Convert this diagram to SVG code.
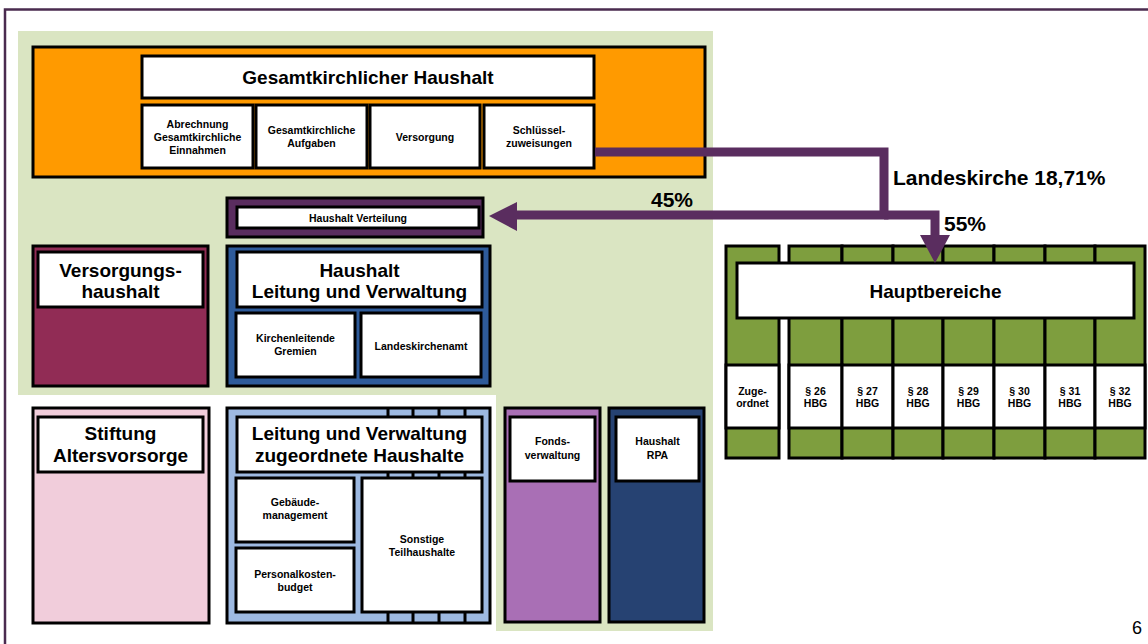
<svg xmlns="http://www.w3.org/2000/svg" width="1148" height="644" viewBox="0 0 1148 644">
<defs>
<style>
.b{stroke:#000;stroke-width:3}
.w{fill:#fff;stroke:#000;stroke-width:3}
.g{fill:#7e9e3e;stroke:#000;stroke-width:3}
.t19{font-family:'Liberation Sans',Arial,sans-serif;font-weight:bold;font-size:19px;text-anchor:middle;fill:#000}
.t10{font-family:'Liberation Sans',Arial,sans-serif;font-weight:bold;font-size:10.5px;text-anchor:middle;fill:#000}
.lbl{font-family:'Liberation Sans',Arial,sans-serif;font-weight:bold;font-size:21px;fill:#000}
.conn{fill:none;stroke:#5a2d5f;stroke-width:9;stroke-linejoin:miter}
.head{fill:#5a2d5f}
</style>
</defs>
<rect width="1148" height="644" fill="#fff"/>
<path d="M5,644 V9.5 H1148" fill="none" stroke="#4a2b4f" stroke-width="2.5"/>
<g id="background">
<rect x="18" y="31" width="695" height="364" fill="#dae5c2"/>
<rect x="496" y="395" width="217" height="236" fill="#dae5c2"/>
</g>
<g id="gesamtkirchlicher-haushalt">
<rect x="33" y="47" width="672" height="130" fill="#ff9a00" class="b"/>
<rect x="142" y="56" width="452" height="42" class="w"/>
<text x="368" y="84" class="t19">Gesamtkirchlicher Haushalt</text>
<rect x="142" y="105" width="111" height="63" class="w"/>
<text class="t10"><tspan x="197.5" y="128">Abrechnung</tspan><tspan x="197.5" y="141">Gesamtkirchliche</tspan><tspan x="197.5" y="154">Einnahmen</tspan></text>
<rect x="256" y="105" width="111" height="63" class="w"/>
<text class="t10"><tspan x="311.5" y="134">Gesamtkirchliche</tspan><tspan x="311.5" y="147">Aufgaben</tspan></text>
<rect x="370" y="105" width="110" height="63" class="w"/>
<text x="425" y="141" class="t10">Versorgung</text>
<rect x="484" y="105" width="110" height="63" class="w"/>
<text class="t10"><tspan x="539" y="134">Schlüssel-</tspan><tspan x="539" y="147">zuweisungen</tspan></text>
</g>
<g id="haushalt-verteilung">
<rect x="227" y="198" width="256" height="39" fill="#5a2d5f" class="b"/>
<rect x="237" y="207" width="242" height="21" class="w"/>
<text x="358" y="222" class="t10">Haushalt Verteilung</text>
</g>
<g id="versorgungshaushalt">
<rect x="33" y="246" width="175" height="140" fill="#912c55" class="b"/>
<rect x="38" y="252" width="165" height="55" class="w"/>
<text class="t19"><tspan x="120.5" y="277">Versorgungs-</tspan><tspan x="120.5" y="298">haushalt</tspan></text>
</g>
<g id="haushalt-leitung-verwaltung">
<rect x="227" y="246" width="263" height="140" fill="#2e5b9a" class="b"/>
<rect x="237" y="252" width="245" height="55" class="w"/>
<text class="t19"><tspan x="359.5" y="277">Haushalt</tspan><tspan x="359.5" y="298">Leitung und Verwaltung</tspan></text>
<rect x="236" y="313" width="119" height="64" class="w"/>
<text class="t10"><tspan x="295.5" y="342">Kirchenleitende</tspan><tspan x="295.5" y="355">Gremien</tspan></text>
<rect x="361" y="313" width="120" height="64" class="w"/>
<text x="421" y="350" class="t10">Landeskirchenamt</text>
</g>
<g id="stiftung-altersvorsorge">
<rect x="33" y="408" width="176" height="215" fill="#f1cddb" class="b"/>
<rect x="38" y="417" width="165" height="55" class="w"/>
<text class="t19"><tspan x="120.5" y="440">Stiftung</tspan><tspan x="120.5" y="462">Altersvorsorge</tspan></text>
</g>
<g id="leitung-verwaltung-zugeordnete">
<rect x="227" y="408" width="263" height="215" fill="#9db9e1" class="b"/>
<path d="M388,408 V623 M413,408 V623 M439,408 V623 M465,408 V623" class="b" fill="none"/>
<rect x="237" y="417" width="245" height="55" class="w"/>
<text class="t19"><tspan x="359.5" y="440">Leitung und Verwaltung</tspan><tspan x="359.5" y="462">zugeordnete Haushalte</tspan></text>
<rect x="236" y="478" width="118" height="64" class="w"/>
<text class="t10"><tspan x="295" y="506">Gebäude-</tspan><tspan x="295" y="519">management</tspan></text>
<rect x="236" y="548" width="118" height="64" class="w"/>
<text class="t10"><tspan x="295" y="578">Personalkosten-</tspan><tspan x="295" y="591">budget</tspan></text>
<rect x="362" y="478" width="120" height="134" class="w"/>
<text class="t10"><tspan x="422" y="543">Sonstige</tspan><tspan x="422" y="556">Teilhaushalte</tspan></text>
</g>
<g id="fondsverwaltung">
<rect x="505" y="408" width="95" height="214" fill="#a96fb5" class="b"/>
<rect x="510" y="417" width="85" height="64" class="w"/>
<text class="t10"><tspan x="552.5" y="445">Fonds-</tspan><tspan x="552.5" y="459">verwaltung</tspan></text>
</g>
<g id="haushalt-rpa">
<rect x="609" y="408" width="95" height="214" fill="#264272" class="b"/>
<rect x="616" y="417" width="83" height="64" class="w"/>
<text class="t10"><tspan x="657.5" y="445">Haushalt</tspan><tspan x="657.5" y="459">RPA</tspan></text>
</g>
<g id="hauptbereiche">
<rect x="726" y="246" width="53" height="212" class="g"/>
<rect x="726" y="365" width="53" height="63" class="w"/>
<text class="t10"><tspan x="752.5" y="395">Zuge-</tspan><tspan x="752.5" y="407">ordnet</tspan></text>
<rect x="789" y="246" width="53" height="212" class="g"/>
<rect x="842" y="246" width="51" height="212" class="g"/>
<rect x="893" y="246" width="50" height="212" class="g"/>
<rect x="943" y="246" width="51" height="212" class="g"/>
<rect x="994" y="246" width="51" height="212" class="g"/>
<rect x="1045" y="246" width="50" height="212" class="g"/>
<rect x="1095" y="246" width="50" height="212" class="g"/>
<rect x="789" y="365" width="53" height="63" class="w"/>
<rect x="842" y="365" width="51" height="63" class="w"/>
<rect x="893" y="365" width="50" height="63" class="w"/>
<rect x="943" y="365" width="51" height="63" class="w"/>
<rect x="994" y="365" width="51" height="63" class="w"/>
<rect x="1045" y="365" width="50" height="63" class="w"/>
<rect x="1095" y="365" width="50" height="63" class="w"/>
<text class="t10"><tspan x="815.5" y="395">§ 26</tspan><tspan x="815.5" y="407">HBG</tspan></text>
<text class="t10"><tspan x="867.5" y="395">§ 27</tspan><tspan x="867.5" y="407">HBG</tspan></text>
<text class="t10"><tspan x="918" y="395">§ 28</tspan><tspan x="918" y="407">HBG</tspan></text>
<text class="t10"><tspan x="968.5" y="395">§ 29</tspan><tspan x="968.5" y="407">HBG</tspan></text>
<text class="t10"><tspan x="1019.5" y="395">§ 30</tspan><tspan x="1019.5" y="407">HBG</tspan></text>
<text class="t10"><tspan x="1070" y="395">§ 31</tspan><tspan x="1070" y="407">HBG</tspan></text>
<text class="t10"><tspan x="1120" y="395">§ 32</tspan><tspan x="1120" y="407">HBG</tspan></text>
<rect x="737" y="263" width="397" height="55" class="w"/>
<text x="935.5" y="298" class="t19">Hauptbereiche</text>
</g>
<g id="connectors">
<path d="M595,152 H884 V215 H515" class="conn"/>
<path d="M884,215 H935 V237" class="conn"/>
<polygon points="489,216 517,202 517,231" class="head"/>
<polygon points="920,235 950,235 935,263" class="head"/>
<text x="893" y="185" class="lbl">Landeskirche 18,71%</text>
<text x="651" y="207" class="lbl">45%</text>
<text x="944" y="231" class="lbl">55%</text>
</g>
<text x="1132" y="634" font-family="'Liberation Sans',Arial,sans-serif" font-size="18" fill="#000">6</text>
</svg>
